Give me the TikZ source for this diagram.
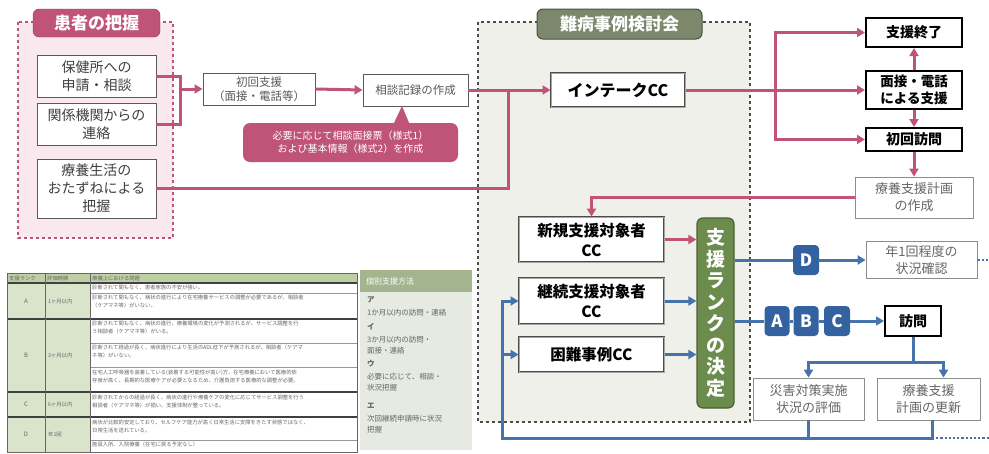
\documentclass[tikz,border=0pt]{standalone}
\usepackage{fontspec}
\setmainfont{Noto Sans CJK JP}
\XeTeXlinebreaklocale "ja"
\usetikzlibrary{arrows.meta}
\definecolor{pk}{RGB}{192,84,120}
\definecolor{pkfill}{RGB}{250,232,239}
\definecolor{bl}{RGB}{70,115,170}
\definecolor{badge}{RGB}{52,98,160}
\definecolor{grn}{RGB}{108,140,78}
\definecolor{grnd}{RGB}{74,94,54}
\definecolor{olv}{RGB}{125,135,108}
\definecolor{gfill}{RGB}{238,240,233}
\definecolor{tgreen}{RGB}{217,228,203}
\definecolor{thead}{RGB}{190,207,166}
\definecolor{rhead}{RGB}{163,180,143}
\definecolor{rbody}{RGB}{230,234,225}
\newcommand{\fs}[2]{\fontsize{#1}{#2}\selectfont}
\tikzset{
  pl/.style={draw=pk, line width=3pt},
  pa/.style={pl, -{Triangle[length=8pt,width=9pt]}},
  bline/.style={draw=bl, line width=3pt},
  ba/.style={bline, -{Triangle[length=8pt,width=9pt]}},
  bdot/.style={draw=bl, line width=2.2pt, dotted},
  gbox/.style={draw=black!65, line width=0.9pt, fill=white, inner sep=0pt, align=center, text=black!75},
  lbox/.style={draw=black!45, line width=0.8pt, fill=white, inner sep=0pt, align=center, text=black!60},
  ccbox/.style={draw=black!70, double=black!35, double distance=0.8pt, line width=1pt, fill=white, inner sep=0pt, align=center, font=\bfseries},
  kbox/.style={draw=black, line width=2pt, fill=white, inner sep=0pt, align=center, font=\bfseries},
  bdg/.style={fill=badge, rounded corners=4pt, minimum width=26pt, minimum height=30pt, inner sep=0pt, text=white, font=\bfseries\fs{17}{20}},
  tab/.style={rounded corners=6pt, inner sep=0pt, text=white, font=\bfseries\fs{17}{20}},
  ttxt/.style={anchor=north west, inner sep=0pt, align=left, text=black!60, font=\fs{5.3}{8}},
  rtxt/.style={anchor=west, inner sep=0pt, text=black!60, font=\fs{7.5}{10}}
}
\begin{document}
\begin{tikzpicture}[x=1pt,y=-1pt]
\useasboundingbox (0,0) rectangle (989,453);
% regions
\draw[pk, line width=1.2pt, dashed, fill=pkfill] (18,22) rectangle (173,238);
\draw[black!70, line width=1.2pt, dashed, fill=gfill] (478,22) rectangle (750,422);
\node[tab, fill=pk, draw=pk!70!black, minimum width=127pt, minimum height=28pt] (tabP) at (96.5,23) {患者の把握};
\node[tab, fill=olv, draw=olv!60!black, line width=1pt, minimum width=165pt, minimum height=30pt] (tabG) at (619.5,24) {難病事例検討会};

% left boxes
\node[gbox, minimum width=119pt, minimum height=42pt, font=\fs{14}{18}] (b1) at (96.5,76) {保健所への\\申請・相談};
\node[gbox, minimum width=119pt, minimum height=42pt, font=\fs{14}{18}] (b2) at (96.5,124) {関係機関からの\\連絡};
\node[gbox, minimum width=119pt, minimum height=59pt, font=\fs{14}{18}] (b3) at (96.5,188.5) {療養生活の\\おたずねによる\\把握};
\node[gbox, minimum width=112pt, minimum height=32pt, font=\fs{11.5}{14}, text=black!65] (shokai) at (259,89) {初回支援\\（面接・電話等）};
\node[gbox, minimum width=105pt, minimum height=32pt, font=\fs{11.5}{14}, text=black!65] (soudan) at (415.5,90) {相談記録の作成};
\node[fill=pk, rounded corners=7pt, minimum width=215pt, minimum height=39pt, inner sep=0pt, align=center, text=white, font=\fs{10}{13}] (callout) at (350.5,142.5) {必要に応じて相談面接票（様式1）\\および基本情報（様式2）を作成};
\fill[pk] (393,125) -- (402,106) -- (410,125) -- cycle;

% green region boxes
\node[ccbox, minimum width=134pt, minimum height=34pt, font=\bfseries\fs{16}{19}] (intake) at (618,90) {インテークCC};
\node[ccbox, minimum width=145pt, minimum height=45pt, font=\bfseries\fs{15.5}{20}] (shinki) at (591.5,239.5) {新規支援対象者\\CC};
\node[ccbox, minimum width=145pt, minimum height=46pt, font=\bfseries\fs{15.5}{20}] (keizoku) at (591.5,301) {継続支援対象者\\CC};
\node[ccbox, minimum width=145pt, minimum height=35pt, font=\bfseries\fs{15.5}{20}] (konnan) at (591.5,354.5) {困難事例CC};
\node[fill=grn, draw=grnd, line width=1.2pt, rounded corners=6pt, minimum width=37pt, minimum height=190pt, inner sep=0pt, align=center, text=white, font=\bfseries\fs{19}{21.5}] (rank) at (715.5,313) {支\\援\\ラ\\ン\\ク\\の\\決\\定};

% right boxes
\node[kbox, minimum width=96pt, minimum height=29pt, font=\bfseries\fs{14}{17}] (end) at (914,32.5) {支援終了};
\node[kbox, minimum width=96pt, minimum height=38pt, font=\bfseries\fs{13.5}{17}] (mensetsu) at (914,90) {面接・電話\\による支援};
\node[kbox, minimum width=96pt, minimum height=23pt, font=\bfseries\fs{14}{17}] (shokaihoumon) at (914,139.5) {初回訪問};
\node[lbox, minimum width=118pt, minimum height=41pt, font=\fs{13}{17}] (keikaku) at (914,197.5) {療養支援計画\\の作成};
\node[bdg] (D) at (806,260) {D};
\node[lbox, minimum width=111pt, minimum height=37pt, font=\fs{13}{17}] (nenkai) at (921.5,260) {年1回程度の\\状況確認};
\node[bdg, minimum width=25pt] (A) at (777,321) {A};
\node[bdg, minimum width=25pt] (B) at (806,321) {B};
\node[bdg, minimum width=26pt] (C) at (837,321) {C};
\node[kbox, minimum width=56pt, minimum height=30pt, font=\bfseries\fs{14}{17}] (houmon) at (913,321) {訪問};
\node[lbox, minimum width=111pt, minimum height=42pt, font=\fs{13}{17}] (saigai) at (808.5,399) {災害対策実施\\状況の評価};
\node[lbox, minimum width=103pt, minimum height=42pt, font=\fs{13}{17}] (koushin) at (928.5,399) {療養支援\\計画の更新};

% coordinates
\coordinate (j1) at (180,89);
\coordinate (j2) at (508,90);
\coordinate (j3) at (775,90);
\coordinate (j4) at (913,362);
\coordinate (fb) at (502,438);
\coordinate (kd) at (932,420);
\coordinate (eR1) at (989,260);
\coordinate (eR2) at (989,438);

% pink connectors
\draw[pl] (b1.east) -| (j1) |- (b2.east);
\draw[pa] (j1) -- (shokai.west);
\draw[pa] (shokai.east) -- (soudan.west);
\draw[pa] (soudan.east) -- (intake.west);
\draw[pl] (b3.east) -| (j2);
\draw[pl] (intake.east) -- (j3);
\draw[pa] (j3) -- (mensetsu.west);
\draw[pa] (j3) |- (end.west);
\draw[pa] (j3) |- (shokaihoumon.west);
\draw[pa] (mensetsu.north) -- (end.south);
\draw[pa] (mensetsu.south) -- (shokaihoumon.north);
\draw[pa] (shokaihoumon.south) -- (keikaku.north);
\draw[pa] (keikaku.west) -| (shinki.north);
\draw[pa] (shinki.east) -- (shinki.east -| rank.west);

% blue connectors
\draw[ba] (keizoku.east) -- (keizoku.east -| rank.west);
\draw[ba] (konnan.east) -- (konnan.east -| rank.west);
\draw[bline] (rank.east |- D.west) -- (D.west);
\draw[ba] (D.east) -- (nenkai.west);
\draw[bdot] (nenkai.east) -- (eR1);
\draw[bline] (rank.east |- A.west) -- (A.west);
\draw[bline] (A.east) -- (B.west);
\draw[bline] (B.east) -- (C.west);
\draw[ba] (C.east) -- (houmon.west);
\draw[bline] (houmon.south) -- (j4);
\draw[ba] (j4) -| (saigai.north);
\draw[ba] (j4) -| ([xshift=15pt]koushin.north);
\draw[bline] (saigai.south) -- (saigai.south |- fb);
\draw[ba] (kd) |- (fb) |- (keizoku.west);
\draw[ba] (fb |- konnan.west) -- (konnan.west);
\draw[bdot] (kd |- fb) -- (eR2);

% left table
\fill[thead] (7,273) rectangle (357,283);
\fill[tgreen] (7,283) rectangle (90,452);
\fill[white] (90,283) rectangle (357,452);
\draw[black!40, line width=0.4pt] (90,293) -- (357,293) (90,343) -- (357,343) (90,367) -- (357,367) (90,440) -- (357,440);
\draw[black!75, line width=1.2pt] (7,283) -- (357,283) (7,319) -- (357,319) (7,392) -- (357,392) (7,417) -- (357,417);
\draw[black!60, line width=0.6pt] (7,273) rectangle (357,452) (45,273) -- (45,452) (90,273) -- (90,452);
\node[ttxt, anchor=west] at (9,278) {支援ランク};
\node[ttxt, anchor=west] at (47,278) {評価時期};
\node[ttxt, anchor=west] at (92,278) {療養上における問題};
\foreach \r/\t/\y in {A/1ヶ月以内/301, B/3ヶ月以内/355.5, C/6ヶ月以内/404.5, D/年1回/434.5}{
  \node[ttxt, anchor=center, font=\fs{6}{8}] at (26,\y) {\r};
  \node[ttxt, anchor=west] at (48,\y) {\t};
}
\node[ttxt] at (92,285) {診断されて間もなく、患者家族の不安が強い。};
\node[ttxt] at (92,295) {診断されて間もなく、病状の進行により在宅療養サービスの調整が必要であるが、相談者\\（ケアマネ等）がいない。};
\node[ttxt] at (92,321) {診断されて間もなく、病状の進行、療養環境の変化が予測されるが、サービス調整を行\\う相談者（ケアマネ等）がいる。};
\node[ttxt] at (92,345) {診断されて経過が長く、病状進行により生活のADL低下が予測されるが、相談者（ケアマ\\ネ等）がいない。};
\node[ttxt] at (92,370) {在宅人工呼吸器を装着している(装着する可能性が高い)方、在宅療養において医療的依\\存度が高く、長期的な医療ケアが必要となるため、介護負担する医療的な調整が必要。};
\node[ttxt] at (92,395) {診断されてからの経過が長く、病状の進行や療養ケアの変化に応じてサービス調整を行う\\相談者（ケアマネ等）が揃い、支援体制が整っている。};
\node[ttxt] at (92,420) {病状が比較的安定しており、セルフケア能力が高く日常生活に支障をきたす状態ではなく、\\日常生活を送れている。};
\node[ttxt] at (92,442) {施設入所、入院療養（在宅に戻る予定なし）};

% right table
\fill[rbody] (360,270) rectangle (472,450);
\fill[rhead] (360,270) rectangle (472,292);
\node[rtxt, text=white, font=\fs{8}{10}] at (366,281) {個別支援方法};
\node[rtxt, font=\bfseries\fs{7.5}{10}] at (367,300) {ア};
\node[rtxt] at (367,313) {1か月以内の訪問・連絡};
\node[rtxt, font=\bfseries\fs{7.5}{10}] at (367,327) {イ};
\node[rtxt] at (367,340) {3か月以内の訪問・};
\node[rtxt] at (367,351) {面接・連絡};
\node[rtxt, font=\bfseries\fs{7.5}{10}] at (367,364) {ウ};
\node[rtxt] at (367,377) {必要に応じて、相談・};
\node[rtxt] at (367,388) {状況把握};
\node[rtxt, font=\bfseries\fs{7.5}{10}] at (367,406) {エ};
\node[rtxt] at (367,419) {次回継続申請時に状況};
\node[rtxt] at (367,430) {把握};
\end{tikzpicture}
\end{document}
